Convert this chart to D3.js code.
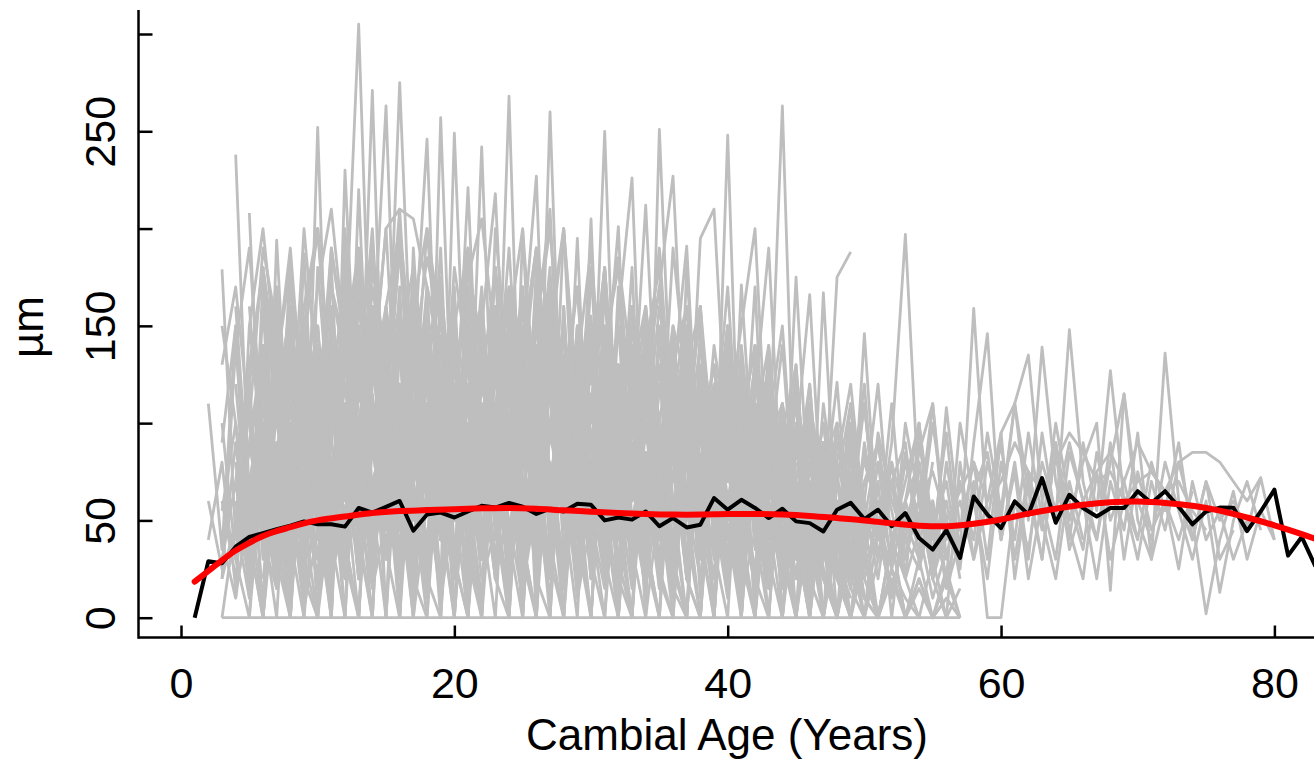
<!DOCTYPE html>
<html>
<head>
<meta charset="utf-8">
<script src="https://cdn.jsdelivr.net/npm/d3@7"></script>
<style>
  body { margin: 0; background: #fff; }
  svg { display: block; font-family: "Liberation Sans", Arial, sans-serif; }
</style>
</head>
<body>
<div id="chart"></div>
<script>
// ring width series per tree (µm), first value belongs to grayStart[i]
const grayStart = [2, 3, 3, 4, 3, 4, 5, 4, 5, 3, 4, 5, 3, 4, 5, 6, 2, 3, 4, 6, 3, 2, 4, 5, 3, 6, 4, 5, 6, 7, 5, 8, 10, 3, 4, 6,
  4, 5, 3, 6, 4, 5, 4, 3, 5, 6, 3, 4, 5, 7, 3, 5, 20, 25, 15];
const grayValues = [
  [110,35,150,20,175,60,0,140,90,10,185,70,0,160,110,25,170,40,120,0,150,85,30,145,10,130,95,15,155,60,0,140,75,20,120,45,0,110,80,15,130,50,0,95,40,70,20,55,10],
  [179,40,120,0,160,30,110,55,0,200,85,20,150,0,180,120,40,95,0,165,60,10,140,75,0,120,90,30,170,45,0,130,60,20,150,80,0,115,40,0,135,70,20,90,0,60,30,0,45,10],
  [0,0,0,0,0,0,0,0,0,0,0,0,0,0,0,0,0,0,0,0,0,0,0,0,0,0,0,0,0,0,0,0,0,0,0,0,0,0,0,0,0,0,0,0,0,0,0,0,0,0,0,0,0,0,0],
  [238,60,0,150,90,20,252,40,0,170,110,35,0,190,80,15,160,55,0,200,120,30,0,175,95,40,150,70,0,150,100,25,0,180,65,20,140,0,110,85,30,120,60,0,100,45,0,70],
  [60,20,90,45,130,10,100,60,0,140,305,90,30,150,60,0,120,70,20,135,55,0,110,80,25,160,40,0,125,65,15,140,90,30,0,115,60,20,130,45,0,90,55,10,75,30,0],
  [30,110,0,80,140,20,95,0,160,70,271,50,120,10,85,190,30,0,145,60,268,40,0,130,75,15,180,55,0,100,140,20,0,95,160,35,0,120,70,15,100,0,60,25,0,40,10,0,20,0,15,0,10,0],
  [208,50,0,120,70,15,150,40,0,130,263,60,0,140,95,20,170,50,0,125,85,30,260,55,0,140,90,20,0,150,60,10,130,45,0,110,75,20,0,95,40,0,65,20,0,35,0,25,10,0],
  [80,20,161,40,0,110,60,182,30,0,145,90,275,100,20,0,155,65,10,130,90,0,120,60,15,140,70,250,45,0,110,80,25,0,150,55,10,120,0,85,40,0,70,20,0,50],
  [40,0,194,60,15,120,75,0,150,40,100,0,130,246,55,0,160,80,20,0,199,60,10,135,70,0,115,201,35,0,251,80,20,125,0,95,60,15,110,0,70,40,0,55,15,0,30],
  [30,70,15,100,50,183,20,0,140,80,25,160,0,110,70,10,257,60,0,130,85,15,150,0,100,55,195,30,0,120,75,10,145,60,0,105,40,248,30,0,115,65,0,80,35,0,60,10,0,40,20,0,30,0,15],
  [120,40,0,90,30,187,50,0,230,80,20,130,0,150,60,15,249,70,0,140,95,20,110,0,160,50,205,30,0,125,70,15,150,60,0,120,45,0,140,80,263,40,0,90,30,0,65],
  [90,140,30,0,120,70,10,165,45,0,135,80,20,150,0,100,60,242,50,0,140,227,30,0,110,65,20,155,226,40,0,120,191,55,10,130,0,95,60,15,100,0,70,30,0],
  [55,100,20,75,120,40,90,15,110,65,130,30,95,140,50,100,20,85,221,60,110,35,90,130,45,100,15,80,120,50,95,212,70,30,110,55,95,20,171,60,100,30,175,50,90,20,70,35],
  [50,85,130,60,100,30,140,75,20,115,90,160,45,100,130,60,20,95,150,218,70,120,40,100,145,55,90,20,125,75,140,40,100,60,195,210,80,30,115,190,50,90,166,40,75,20,55,30,70,20,45,10,35],
  [30,60,15,80,40,100,55,20,90,60,120,35,75,95,40,110,30,70,125,45,85,20,100,60,130,40,80,25,105,55,90,35,120,50,70,20,95,45,80,30,60,15,167,40,65,25,50,15,40],
  [70,110,40,150,90,130,60,180,120,200,210,205,170,140,90,130,60,110,150,80,120,40,200,100,60,140,90,30,120,170,227,80,120,45,100,150,200,60,110,30,90,50,175,188],
  [60,25,90,35,120,55,20,100,45,140,70,30,115,60,20,95,150,40,80,20,110,65,140,30,90,50,125,20,95,60,10,105,70,130,25,85,45,115,30,90,50,15,80,120,35,60,121,30,146,40,110,30,60,20,45],
  [20,140,50,10,110,160,60,20,130,95,180,40,150,80,20,125,175,50,95,30,160,110,40,180,70,20,140,95,30,170,60,120,15,110,160,50,90,25,140,70,110,20,100,40,85,20,60],
  [10,60,100,20,70,130,40,95,0,120,160,70,30,140,60,110,0,90,170,40,80,130,15,95,55,150,20,105,60,0,135,85,40,120,10,80,150,45,0,105,70,20,60,0,40,15,50,0,25,0,20,0,10,0],
  [40,15,65,30,80,20,55,95,30,70,45,100,25,60,90,35,75,20,60,105,40,70,30,85,50,15,65,100,35,55,20,80,40,95,30,60,15,70,40,0,50,20,0,35,10,0],
  [100,30,0,120,60,10,90,140,20,70,0,110,60,140,20,0,100,150,40,0,90,60,170,20,0,120,80,30,140,0,90,50,150,15,0,110,60,20,130,0,75,30,0,80,25,0,60,20,0,40,0,30,0,20,0],
  [40,80,15,50,100,30,70,120,0,60,130,190,30,80,0,100,160,50,0,140,80,30,100,0,140,60,120,10,70,130,30,0,100,60,140,20,0,90,150,30,70,0,110,50,0,60,20,0,45],
  [160,60,100,20,150,0,80,120,30,220,60,0,140,90,30,170,0,100,60,130,20,80,170,40,0,130,90,20,110,160,40,0,140,60,100,0,120,80,20,140,40,0,95,40,0],
  [0,80,140,40,0,180,90,40,0,120,200,70,0,110,60,170,30,0,150,90,40,0,140,200,60,0,120,70,180,30,0,100,150,40,0,120,60,170,30,0,90,50,0,70],
  [0,50,120,0,70,110,30,0,160,100,40,0,130,90,0,60,120,30,0,90,180,40,0,110,70,0,150,50,0,90,120,0,60,140,20,0,100,60,0,90,130,0,60,20,0,50,0,30,0,40,0,20,0,25,0],
  [120,80,150,110,70,130,90,160,100,60,140,90,120,70,150,110,80,140,100,60,120,160,90,130,70,110,150,80,120,60,100,140,90,130,70,110,60,100,80,120,60,100,40],
  [50,120,30,90,15,140,70,25,110,60,160,45,100,20,130,75,30,120,55,150,20,90,60,135,35,100,20,115,70,30,120,50,95,20,110,60,140,40,85,25,100,55,120,30,80,50,110,40,90,197,60,20,80,35,159,50,90,30,75,45,100,60,35,85,50,70,40,80,55,90,40,70,50,60,45,72,40],
  [100,40,150,60,20,120,80,30,140,55,100,25,160,70,110,35,90,140,50,100,20,130,75,30,115,60,150,40,90,25,120,70,100,30,80,125,45,95,20,110,60,30,90,45,110,30,80,55,20,100,45,70,25,90,146,40,80,30,95,50,148,70,40,90,30,75,45,60,25,70,40,55,30,50],
  [60,20,110,50,130,30,90,150,40,120,70,20,100,145,60,30,120,80,150,45,100,20,110,70,140,30,85,120,50,100,20,90,140,60,30,110,70,20,95,130,40,80,30,100,60,120,35,80,50,110,30,70,40,95,55,110,135,60,30,85,60,40,80,115,50,30,136,60,40,70,30,45],
  [90,30,70,120,40,100,20,85,130,50,95,30,120,70,150,40,80,25,110,60,130,45,90,20,100,150,50,85,30,115,60,20,90,55,120,35,80,140,45,95,30,70,110,40,80,25,100,60,30,108,45,80,30,95,110,50,139,70,40,90,55,127,60,30,70,45,80,50,2,40,65,30,55,40],
  [70,110,40,160,80,30,120,60,100,150,60,20,110,80,40,140,70,100,25,90,130,50,80,20,125,70,100,40,140,60,25,90,120,45,75,30,100,60,130,40,70,20,110,55,80,30,95,60,40,85,110,40,60,30,80,50,110,65,30,90,50,80,100,14,115,60,40,80,55,30,60,13,50,70,45],
  [40,90,30,75,120,50,90,30,110,60,20,85,130,45,95,30,100,60,140,35,80,50,115,25,90,60,120,40,75,30,100,50,85,25,110,60,40,90,30,70,50,95,35,60,30,85,45,100,50,30,70,0,0,60,35,80,55,90,60,75,85,70,90,75,65,70,55,45],
  [60,75,55,90,70,95,60,80,110,75,60,90,70,100,80,55,85,70,95,60,75,90,65,80,55,70,90,60,75,55,80,65,50,75,60,85,55,70,45,65,80,55,70,45,60,75,50,65,80,60,70,90,75,65,80,95,85,70,75,60,70,75,65,80,85,85,80,70,60,72],
  [40,10,150,90,20,130,50,0,95,140,30,110,0,160,70,20,140,90,10,130,60,0,120,80,20,150,50,0,110,70,130,20,95,50,0,120,70,20,100,140,30,80,0,110,40,0,90,30,70,0,60,100,20,0,80,30,60,95,20,70,30,90,45,20,75,30,60,40],
  [90,30,140,60,0,100,150,40,90,20,130,70,170,30,90,0,120,60,100,20,160,70,30,120,0,90,140,40,100,20,160,60,0,110,80,30,150,60,20,100,50,130,30,90,0,60,120,30,80,20,90,50,20,100,60,20,80,40,95,50,20,70,40],
  [20,80,120,40,90,20,140,80,30,100,60,130,20,90,50,110,30,75,130,40,95,20,85,120,45,90,20,70,100,40,130,30,80,110,40,60,95,30,70,110,20,80,50,25,90,45,70,30,80,40,95,30,65,85,40,75,20,60,85,35,60,20,70,45,95,30,60,40,65],
  [140,190,90,170,60,150,200,110,180,70,160,120,210,90,170,130,60,180,140,100,190,80,150,200,110,170,60,140,180,100,160,70,190,120,150,90,170,60,130,100,150,50,110,70,40],
  [160,70,130,190,100,150,40,170,120,200,80,140,180,60,160,110,190,70,130,170,90,150,210,60,140,110,180,80,150,120,170,50,130,160,80,120,40,100,140,60,90,30],
  [90,150,60,120,170,80,140,200,100,160,60,180,130,90,170,120,60,150,190,100,130,70,160,110,180,60,140,100,170,80,120,150,60,130,90,160,50,110,80,130,40,90,60,20],
  [100,60,170,120,80,190,140,60,160,110,200,90,150,70,180,130,100,160,60,140,190,90,120,170,70,150,110,60,140,180,80,120,60,140,90,50,110,70,30,80],
  [70,130,180,110,60,150,100,190,140,80,170,120,60,160,200,110,80,150,120,180,70,140,100,160,60,130,190,90,150,110,70,140,100,60,120,80,150,40,100,70,30,60,20,50],
  [120,180,100,60,140,90,170,130,70,150,110,190,80,140,170,100,150,60,180,120,90,160,130,70,150,100,180,60,130,90,160,110,50,120,80,140,60,100,40,80,30,55,20],
  [30,90,60,120,40,100,150,70,110,40,130,90,50,120,160,80,110,40,140,100,60,130,90,150,50,110,70,120,40,100,140,60,90,30,110,70,120,50,80,30,90,50,20,60,30,10],
  [150,100,60,130,80,170,110,60,150,120,80,190,100,150,70,130,170,90,120,60,150,110,170,80,130,100,60,150,120,90,160,70,120,100,50,130,80,110,60,100,40,70,30],
  [50,110,80,40,100,140,60,120,80,30,100,150,70,110,50,130,90,60,140,100,40,110,150,70,120,90,40,130,80,110,60,140,50,100,80,30,110,70,40,90,60,25,70,40,15],
  [180,130,90,160,200,120,80,170,140,100,190,130,70,160,110,180,140,90,150,200,100,170,60,140,120,180,90,150,110,70,130,160,90,120,60,100,140,70,90,50],
  [20,50,10,70,30,60,5,45,80,25,60,15,50,90,30,65,10,55,85,20,45,70,15,60,30,80,10,50,75,25,55,15,70,40,90,20,50,65,10,45,80,25,55,15,60,35,75,20,45,10,50,30,60,15,40],
  [60,20,90,45,10,75,110,40,85,20,65,100,35,70,15,95,55,120,30,80,50,10,90,60,105,25,70,45,115,20,85,55,30,100,40,75,15,90,60,25,80,45,100,30,70,20,85,50,25,60,35,80],
  [150,200,130,180,110,170,210,140,190,120,160,200,130,185,150,110,175,205,140,165,120,190,150,200,110,170,140,185,125,160,100,150,120,90,130,80,110,60,90],
  [90,50,130,70,110,40,100,140,60,120,80,40,110,150,70,100,50,130,90,60,120,80,140,50,100,70,120,40,90,130,60,100,80,50,110,70,120,40,90,60,100,50,80,110,40,70,90,30,60,20,50],
  [130,170,100,190,150,80,200,120,170,140,90,185,130,160,100,200,150,110,180,130,90,170,140,190,110,150,80,175,130,100,160,120,190,90,140,70,120,100,60,110,40],
  [40,90,60,25,110,70,40,95,130,50,80,20,100,60,125,35,75,105,45,90,15,70,115,55,85,30,100,65,40,120,50,85,20,75,110,45,65,25,90,55,35,80,45,100,30,60,20,70,40,25,55,30],
  [80,130,60,110,40,100,150,70,120,50,90,130,60,100,40,120,80,140,50,100,70,120,40,90,110,60,100,30,80,120,50,90,40,70,100,30,60,20],
  [100,50,140,80,30,110,70,130,60,100,40,120,80,50,110,70,130,40,90,60,110,50,80,100,30,70,90,40,60,80,20,50,30],
  [60,110,40,90,130,70,100,30,80,120,60,140,40,90,110,50,80,130,70,100,40,120,60,90,130,50,80,110,40,100,70,120,30,90,60,110,40,80,50,70,30,45]
];

// mean chronology, years 1..83
const meanStart = 1;
const meanValues = [0,29,28,36.5,41.5,43.5,45.5,47.3,49.5,48,48,46.8,56.4,54,57,60,44.7,53,54,51.5,
  54.6,57.5,56.6,59,57,53.3,56,54.6,58.6,58,50,51.5,50.4,54.6,47,51.2,46.4,47.8,61.5,55.5,
  60.6,56.4,51.2,56,49.5,48.6,44.3,55.5,59,50.7,55.5,47,53.8,41,35,45,30.7,62.3,53,46,
  59.8,53,71.8,48.8,63.2,56.4,52,56.4,56.4,65,59,65,57,48,54.6,56.6,56.5,44.5,54.6,65.8,
  31.9,41.5,26.4];

// smoothed trend
const smoothYears = [1,2,3,4,5,6,7,8,9,10,12,14,16,18,20,22,24,26,28,30,32,34,36,38,40,42,44,46,48,50,52,54,56,58,60,62,64,66,68,70,72,74,76,78,80,82,84];
const smoothValues = [18.5,24,29.5,34.5,38.5,42,44.5,46.5,48.5,50,52,53.8,54.8,55.3,55.8,56.2,56.4,56,55.2,54.5,53.8,53.3,53,53,53.3,53.3,53,52.3,51.2,50,48.5,47.3,47,48.3,50.5,53.5,56,58,59.3,59.7,59,57.5,55,51.5,47.5,43,38];

const xTicks = [0, 20, 40, 60, 80];
const yTicks = [0, 50, 100, 150, 200, 250, 300];
const yLabelled = [0, 50, 150, 250];

const W = 1314, H = 764;
const plotLeft = 138.5, plotTop = 10, axisY = 637.5;

const svg = d3.select("#chart").append("svg")
  .attr("width", W)
  .attr("height", H);

const x = d3.scaleLinear().domain([0, 80]).range([181, 1274.4]);
const y = d3.scaleLinear().domain([0, 300]).range([617.7, 34]);

const line = d3.line()
  .x(d => x(d[0]))
  .y(d => y(d[1]));

// individual series
svg.append("g")
  .selectAll("path")
  .data(grayValues.map((vals, i) => vals.map((v, j) => [grayStart[i] + j, v])))
  .enter()
  .append("path")
  .attr("d", line)
  .attr("fill", "none")
  .attr("stroke", "#bebebe")
  .attr("stroke-width", 2.8)
  .attr("stroke-linejoin", "round");

// mean
svg.append("path")
  .attr("d", line(meanValues.map((v, j) => [meanStart + j, v])))
  .attr("fill", "none")
  .attr("stroke", "#000")
  .attr("stroke-width", 4)
  .attr("stroke-linejoin", "round");

// smooth
svg.append("path")
  .attr("d", line.curve(d3.curveCatmullRom)(smoothYears.map((yr, j) => [yr, smoothValues[j]])))
  .attr("fill", "none")
  .attr("stroke", "#ff0000")
  .attr("stroke-width", 6)
  .attr("stroke-linecap", "round");

// box lines (bty = "l")
svg.append("line")
  .attr("x1", plotLeft).attr("x2", W + 5)
  .attr("y1", axisY).attr("y2", axisY)
  .attr("stroke", "#000").attr("stroke-width", 2.5);
svg.append("line")
  .attr("x1", plotLeft).attr("x2", plotLeft)
  .attr("y1", plotTop).attr("y2", axisY + 1.2)
  .attr("stroke", "#000").attr("stroke-width", 2.5);

// x axis
const xAxis = svg.append("g")
  .attr("transform", `translate(0,${axisY})`)
  .call(d3.axisBottom(x).tickValues(xTicks).tickSize(-12).tickFormat(d3.format("d")));
xAxis.select(".domain").remove();
xAxis.selectAll(".tick line").attr("stroke", "#000").attr("stroke-width", 2.5);
xAxis.selectAll(".tick text")
  .attr("y", 60).attr("dy", 0)
  .attr("fill", "#000")
  .style("font-size", "43px")
  .style("font-family", "Liberation Sans, Arial, sans-serif");

// y axis
const yAxis = svg.append("g")
  .attr("transform", `translate(${plotLeft},0)`)
  .call(d3.axisLeft(y).tickValues(yTicks).tickSize(-14)
    .tickFormat(d => yLabelled.includes(d) ? d : ""));
yAxis.select(".domain").remove();
yAxis.selectAll(".tick line").attr("stroke", "#000").attr("stroke-width", 2.5);
yAxis.selectAll(".tick text")
  .attr("transform", "rotate(-90)")
  .attr("x", 0).attr("y", -23.5).attr("dy", 0)
  .attr("text-anchor", "middle")
  .attr("fill", "#000")
  .style("font-size", "43px")
  .style("font-family", "Liberation Sans, Arial, sans-serif");

// axis titles
svg.append("text")
  .attr("x", 727).attr("y", 750)
  .attr("text-anchor", "middle")
  .style("font-size", "44px")
  .text("Cambial Age (Years)");

svg.append("text")
  .attr("transform", "translate(43,327) rotate(-90)")
  .attr("text-anchor", "middle")
  .style("font-size", "44px")
  .text("µm");
</script>
</body>
</html>
